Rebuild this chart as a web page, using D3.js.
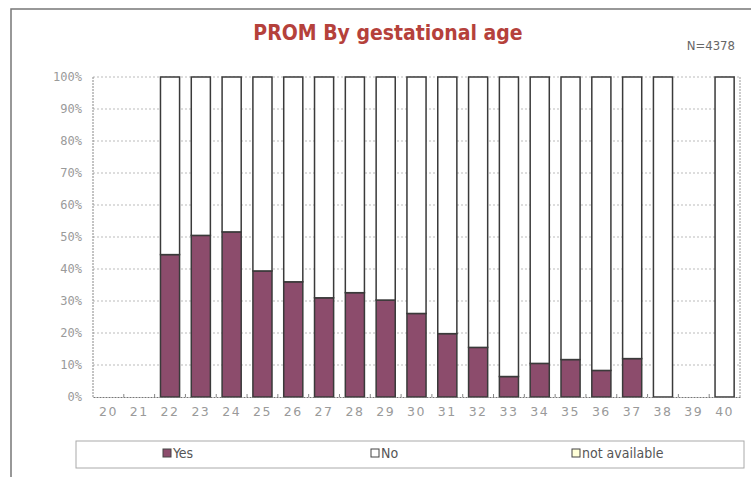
<!DOCTYPE html>
<html>
<head>
<meta charset="utf-8">
<script src="https://cdn.jsdelivr.net/npm/d3@7"></script>
<style>
  body { margin: 0; background: #fff; }
</style>
</head>
<body>
<script>
// gestational age (weeks)
const weeks = ["20", "21", "22", "23", "24", "25", "26", "27", "28", "29", "30",
    "31", "32", "33", "34", "35", "36", "37", "38", "39", "40"];

// share of cases (%), null = no cases
const yesValues = [null, null, 44.5, 50.5, 51.6, 39.4, 36.0, 31.0, 32.6, 30.3, 26.1,
    19.8, 15.5, 6.4, 10.5, 11.7, 8.3, 12.0, 0, null, 0];
const noValues = [null, null, 55.5, 49.5, 48.4, 60.6, 64.0, 69.0, 67.4, 69.7, 73.9,
    80.2, 84.5, 93.6, 89.5, 88.3, 91.7, 88.0, 100, null, 100];
const naValues = [null, null, 0, 0, 0, 0, 0, 0, 0, 0, 0,
    0, 0, 0, 0, 0, 0, 0, 0, null, 0];

const seriesNames = ["Yes", "No", "not available"];
const yTicks = [0, 10, 20, 30, 40, 50, 60, 70, 80, 90, 100];

const width = 751;
const height = 477;

const plot = { left: 93, right: 740, top: 77, bottom: 397 };

const colors = { "Yes": "#8c4c6c", "No": "#ffffff", "not available": "#ffffd8" };

const rows = weeks.map((w, i) => ({
    week: w,
    empty: yesValues[i] === null,
    "Yes": yesValues[i] || 0,
    "No": noValues[i] || 0,
    "not available": naValues[i] || 0
}));

const svg = d3.select("body")
    .append("svg")
    .attr("width", width)
    .attr("height", height);

// outer frame
svg.append("rect")
    .attr("x", 11)
    .attr("y", 9)
    .attr("width", 760)
    .attr("height", 480)
    .attr("fill", "#fff")
    .attr("stroke", "#777")
    .attr("stroke-width", 1.5);

const x = d3.scaleBand()
    .domain(weeks)
    .range([plot.left, plot.right])
    .paddingInner(0.38)
    .paddingOuter(0.19);

const y = d3.scaleLinear()
    .domain([0, 100])
    .range([plot.bottom, plot.top]);

// grid lines
svg.append("g")
    .selectAll("line")
    .data(yTicks.filter(d => d > 0))
    .enter()
    .append("line")
    .attr("x1", plot.left)
    .attr("x2", plot.right)
    .attr("y1", d => y(d))
    .attr("y2", d => y(d))
    .attr("stroke", "#bbb")
    .attr("stroke-dasharray", "2,2");

// plot area frame (left / right dotted)
svg.append("line")
    .attr("x1", plot.left).attr("x2", plot.left)
    .attr("y1", plot.top).attr("y2", plot.bottom)
    .attr("stroke", "#888")
    .attr("stroke-dasharray", "2,1");
svg.append("line")
    .attr("x1", plot.right).attr("x2", plot.right)
    .attr("y1", plot.top).attr("y2", plot.bottom)
    .attr("stroke", "#999")
    .attr("stroke-dasharray", "2,1");

// y axis labels
const yAxis = svg.append("g")
    .attr("transform", "translate(" + plot.left + ",0)")
    .call(d3.axisLeft(y).tickValues(yTicks).tickFormat(d => d + "%").tickSize(0).tickPadding(11));
yAxis.select(".domain").remove();
yAxis.selectAll("text")
    .attr("fill", "#9a9a9a")
    .style("font-family", "'DejaVu Sans Mono', monospace")
    .style("font-size", "12px");

// stacked bars
const stack = d3.stack().keys(seriesNames);
const stacked = stack(rows);

svg.append("g")
    .selectAll("g")
    .data(stacked)
    .enter()
    .append("g")
    .attr("fill", d => colors[d.key])
    .selectAll("rect")
    .data(d => d.filter(p => !p.data.empty && p[1] - p[0] > 0))
    .enter()
    .append("rect")
    .attr("x", d => x(d.data.week))
    .attr("width", x.bandwidth())
    .attr("y", d => y(d[1]))
    .attr("height", d => y(d[0]) - y(d[1]))
    .attr("stroke", "#3a3a3a")
    .attr("stroke-width", 1.5);

// x axis
const xAxis = svg.append("g")
    .attr("transform", "translate(0," + plot.bottom + ")")
    .call(d3.axisBottom(x).tickSize(0).tickPadding(10));
xAxis.select(".domain")
    .attr("stroke", "#777")
    .attr("stroke-dasharray", "2,1");
xAxis.selectAll("text")
    .attr("fill", "#9a9a9a")
    .style("font-family", "'DejaVu Sans', sans-serif")
    .style("font-size", "12.5px")
    .style("letter-spacing", "1.5px");

// small tick marks between categories
svg.append("g")
    .selectAll("line")
    .data(weeks.slice(1))
    .enter()
    .append("line")
    .attr("x1", d => x(d) - x.step() * x.paddingInner() / 2)
    .attr("x2", d => x(d) - x.step() * x.paddingInner() / 2)
    .attr("y1", plot.bottom)
    .attr("y2", plot.bottom - 3)
    .attr("stroke", "#888");

// title
svg.append("text")
    .attr("x", 388)
    .attr("y", 40)
    .attr("text-anchor", "middle")
    .attr("fill", "#b5413b")
    .style("font-family", "'DejaVu Sans Condensed', 'DejaVu Sans', sans-serif")
    .style("font-weight", "bold")
    .style("font-size", "21px")
    .text("PROM By gestational age");

svg.append("text")
    .attr("x", 735)
    .attr("y", 50)
    .attr("text-anchor", "end")
    .attr("fill", "#666")
    .style("font-family", "'DejaVu Sans Condensed', 'DejaVu Sans', sans-serif")
    .style("font-size", "13px")
    .text("N=4378");

// legend
svg.append("rect")
    .attr("x", 76)
    .attr("y", 441)
    .attr("width", 668)
    .attr("height", 27)
    .attr("fill", "#fff")
    .attr("stroke", "#aaa");

const legendX = [163, 371, 572];
const legend = svg.append("g")
    .selectAll("g")
    .data(seriesNames)
    .enter()
    .append("g")
    .attr("transform", (d, i) => "translate(" + legendX[i] + ",449)");

legend.append("rect")
    .attr("width", 8)
    .attr("height", 8)
    .attr("fill", d => colors[d])
    .attr("stroke", "#444");

legend.append("text")
    .attr("x", 10)
    .attr("y", 9)
    .attr("fill", "#555")
    .style("font-family", "'DejaVu Sans Condensed', 'DejaVu Sans', sans-serif")
    .style("font-size", "14px")
    .text(d => d);
</script>
</body>
</html>
